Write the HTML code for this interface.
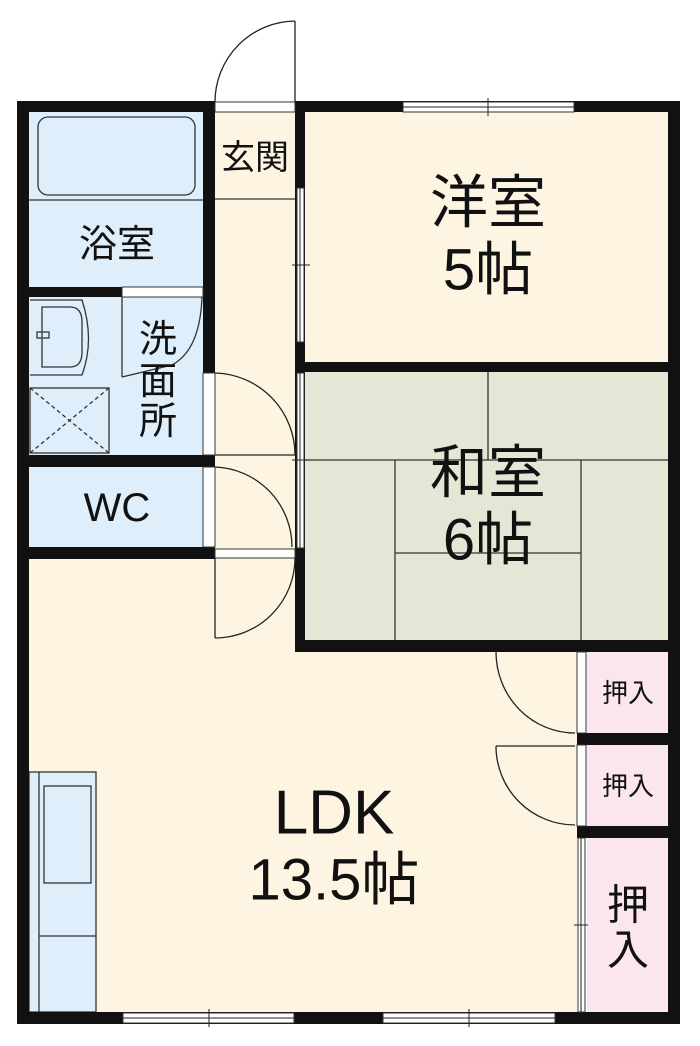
<!DOCTYPE html>
<html><head><meta charset="utf-8"><style>
html,body{margin:0;padding:0;background:#fff;}
svg{display:block;}
text{font-family:"Liberation Sans","Noto Sans CJK JP",sans-serif;fill:#111;text-anchor:middle;dominant-baseline:central;}
</style></head><body>
<svg width="700" height="1046" viewBox="0 0 700 1046" xmlns="http://www.w3.org/2000/svg">
<!-- floors -->
<rect x="29" y="559" width="548" height="453" fill="#fdf5e2"/>
<rect x="215" y="549" width="90" height="20" fill="#fdf5e2"/>
<rect x="29" y="112" width="174" height="175" fill="#deeefa"/>
<rect x="29" y="297" width="174" height="158" fill="#deeefa"/>
<rect x="29" y="467" width="174" height="80" fill="#deeefa"/>
<rect x="215" y="112" width="80" height="447" fill="#fdf5e2"/>
<rect x="305" y="112" width="363" height="250" fill="#fdf5e2"/>
<rect x="305" y="372" width="363" height="268" fill="#e3e8d6"/>
<rect x="587" y="652" width="81" height="81" fill="#fbe6ef"/>
<rect x="587" y="745" width="81" height="81" fill="#fbe6ef"/>
<rect x="587" y="838" width="81" height="174" fill="#fbe6ef"/>
<rect x="29" y="772" width="67" height="240" fill="#deeefa"/>

<!-- tatami -->
<g stroke="#333" stroke-width="1.3" fill="none">
<line x1="488" y1="372" x2="488" y2="460"/>
<line x1="305" y1="460" x2="668" y2="460"/>
<line x1="395" y1="460" x2="395" y2="640"/>
<line x1="581" y1="460" x2="581" y2="640"/>
<line x1="395" y1="553" x2="581" y2="553"/>
</g>

<!-- fixtures -->
<g stroke="#333" stroke-width="1.3" fill="none">
<rect x="38" y="117" width="157" height="78" rx="10"/>
<line x1="29" y1="200" x2="203" y2="200"/>
<line x1="215" y1="199" x2="295" y2="199"/>
<path d="M30 300 H82 Q95 340 82 375 H30"/>
<path d="M42 307 H70 Q82 307 82 322 V352 Q82 367 70 367 H42 Z"/>
<rect x="37" y="332" width="12" height="6"/>
<rect x="30" y="388" width="79" height="65"/>
<line x1="30" y1="388" x2="109" y2="453" stroke-dasharray="4 3"/>
<line x1="109" y1="388" x2="30" y2="453" stroke-dasharray="4 3"/>
<line x1="122" y1="297" x2="122" y2="377"/>
<path d="M202 297 Q200 350 172 365 L122 377"/>
<rect x="29" y="772" width="67" height="240"/>
<line x1="39" y1="772" x2="39" y2="1012"/>
<rect x="44" y="786" width="47" height="97"/>
<line x1="39" y1="936" x2="96" y2="936"/>
</g>

<!-- walls -->
<g fill="#111">
<rect x="17" y="101" width="198" height="11"/>
<rect x="295" y="101" width="385" height="11"/>
<rect x="17" y="101" width="12" height="923"/>
<rect x="668" y="101" width="12" height="923"/>
<rect x="17" y="1012" width="663" height="12"/>
<rect x="203" y="101" width="12" height="458"/>
<rect x="17" y="287" width="186" height="10"/>
<rect x="17" y="455" width="198" height="12"/>
<rect x="17" y="547" width="198" height="12"/>
<rect x="295" y="101" width="10" height="551"/>
<rect x="295" y="362" width="385" height="10"/>
<rect x="295" y="640" width="385" height="12"/>
<rect x="577" y="733" width="103" height="12"/>
<rect x="577" y="826" width="103" height="12"/>
</g>

<!-- openings (white) -->
<g fill="#fff" stroke="#333" stroke-width="1">
<rect x="215" y="102" width="80" height="10"/>
<rect x="122" y="287" width="81" height="10"/>
<rect x="203" y="373" width="12" height="82"/>
<rect x="203" y="467" width="12" height="80"/>
<rect x="215" y="549" width="80" height="9"/>
<rect x="403" y="102" width="171" height="10"/>
<rect x="123" y="1013" width="171" height="10"/>
<rect x="383" y="1013" width="172" height="10"/>
<rect x="297" y="188" width="7" height="154"/>
<rect x="297" y="373" width="7" height="175"/>
<rect x="577" y="652" width="9" height="81"/>
<rect x="577" y="745" width="9" height="81"/>
<rect x="578" y="838" width="7" height="174"/>
</g>
<g stroke="#222" stroke-width="1">
<line x1="300" y1="188" x2="300" y2="342"/><line x1="292" y1="265" x2="310" y2="265"/>
<line x1="300" y1="373" x2="300" y2="548"/><line x1="292" y1="460" x2="310" y2="460"/>
<line x1="403" y1="107" x2="574" y2="107"/><line x1="488" y1="98" x2="488" y2="116"/>
<line x1="123" y1="1018" x2="294" y2="1018"/><line x1="209" y1="1009" x2="209" y2="1027"/>
<line x1="383" y1="1018" x2="555" y2="1018"/><line x1="469" y1="1009" x2="469" y2="1027"/>
<line x1="581" y1="838" x2="581" y2="1012"/><line x1="574" y1="925" x2="588" y2="925"/>
</g>

<!-- doors -->
<g stroke="#222" stroke-width="1.3" fill="none">
<line x1="295" y1="21" x2="295" y2="102"/>
<path d="M295 21 A81 81 0 0 0 215 102"/>
<line x1="215" y1="455" x2="295" y2="455"/>
<path d="M215 373 A82 82 0 0 1 295 455"/>
<path d="M215 467 A80 80 0 0 1 292 547"/>
<line x1="215" y1="558" x2="215" y2="638"/>
<path d="M295 558 A80 80 0 0 1 215 638"/>
<path d="M496 652 A79 81 0 0 0 575 733"/>
<line x1="496" y1="746" x2="575" y2="746"/>
<path d="M496 746 A79 79 0 0 0 575 825"/>
</g>

<!-- labels -->
<text x="117" y="245" font-size="38">浴室</text>
<text x="255" y="158" font-size="34">玄関</text>
<text x="158" y="340" font-size="38">洗</text>
<text x="158" y="382" font-size="38">面</text>
<text x="158" y="422" font-size="38">所</text>
<text x="117" y="508" font-size="40">WC</text>
<text x="488" y="203" font-size="58">洋室</text>
<text x="488" y="270" font-size="58">5帖</text>
<text x="488" y="473" font-size="58">和室</text>
<text x="488" y="540" font-size="58">6帖</text>
<text x="334" y="813" font-size="62">LDK</text>
<text x="334" y="880" font-size="58">13.5帖</text>
<text x="628" y="693" font-size="26">押入</text>
<text x="628" y="786" font-size="26">押入</text>
<text x="628" y="905" font-size="42">押</text>
<text x="628" y="950" font-size="42">入</text>
</svg>
</body></html>
